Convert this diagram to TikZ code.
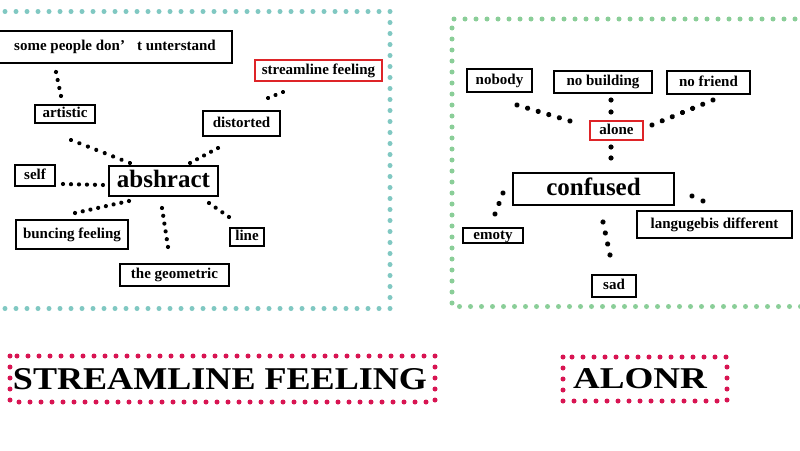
\documentclass[tikz,border=0pt]{standalone}
\usepackage{fontspec}
\setmainfont{Liberation Serif}
\usepackage{graphicx}
\usetikzlibrary{decorations.markings}
\definecolor{frameteal}{RGB}{128,200,194}
\definecolor{framegreen}{RGB}{138,206,152}
\definecolor{framered}{RGB}{216,20,82}
\definecolor{boxred}{RGB}{222,36,40}
\tikzset{
  lbl/.style={draw=black, line width=1.5pt, inner sep=0pt, fill=white,
    font=\bfseries\fontsize{15}{18}\selectfont, text height=10pt, text depth=3pt},
  redlbl/.style={lbl, draw=boxred},
  biglbl/.style={lbl, font=\bfseries\fontsize{25}{30}\selectfont, text height=16pt, text depth=4pt},
  dotsl/.style={postaction={decorate}, decoration={markings,
    mark=between positions 0 and 1 step #1 with {\fill[black] (0,0) circle (2.1pt);}}},
  dotsr/.style={postaction={decorate}, decoration={markings,
    mark=between positions 0 and 1 step #1 with {\fill[black] (0,0) circle (2.6pt);}}},
  dotframe/.style={line width=5pt, line cap=round, dash pattern=on 0pt off 11pt},
}
\begin{document}
\begin{tikzpicture}[x=1pt,y=-1pt]
\useasboundingbox (0,0) rectangle (800,450);
\fill[white] (0,0) rectangle (800,450);

% frames
\draw[dotframe, frameteal] (-6,11.5) -- (390,11.5) -- (390,308.5) -- (-6,308.5);
\draw[dotframe, framegreen] (806,19) -- (452,19) -- (452,306.5) -- (806,306.5);
\draw[dotframe, framered] (10,356) rectangle (435,402);
\draw[dotframe, framered] (563,357) rectangle (727,401);

% titles
\node[inner sep=0pt] (ttl1) at (220,379.5) {\resizebox{414pt}{21pt}{\bfseries STREAMLINE FEELING}};
\node[inner sep=0pt] (ttl2) at (640,378.5) {\resizebox{134pt}{20pt}{\bfseries ALONR}};

% left panel nodes
\node[lbl, minimum width=234pt, minimum height=32pt] (some) at (115,47) {some people don’\hspace{0.8em}t unterstand};
\node[redlbl, minimum width=127pt, minimum height=21pt] (stream) at (318.5,70.5) {streamline feeling};
\node[lbl, minimum width=60pt, minimum height=18pt] (artistic) at (65,114) {artistic};
\node[lbl, minimum width=77pt, minimum height=25pt] (distorted) at (241.5,123.5) {distorted};
\node[biglbl, minimum width=109pt, minimum height=30pt] (abshract) at (163.5,181) {abshract};
\node[lbl, minimum width=40pt, minimum height=21pt] (self) at (35,175.5) {self};
\node[lbl, minimum width=112pt, minimum height=29pt] (buncing) at (72,234.5) {buncing feeling};
\node[lbl, minimum width=34pt, minimum height=18pt] (line) at (247,237) {line};
\node[lbl, minimum width=109pt, minimum height=22pt] (geometric) at (174.5,275) {the geometric};

% right panel nodes
\node[lbl, minimum width=65pt, minimum height=23pt] (nobody) at (499.5,80.5) {nobody};
\node[lbl, minimum width=98pt, minimum height=22pt] (nobuilding) at (603,82) {no building};
\node[lbl, minimum width=83pt, minimum height=23pt] (nofriend) at (708.5,82.5) {no friend};
\node[redlbl, minimum width=53pt, minimum height=19pt] (alone) at (616.5,130.5) {alone};
\node[biglbl, minimum width=161pt, minimum height=32pt] (confused) at (593.5,189) {confused};
\node[lbl, minimum width=60pt, minimum height=15pt] (emoty) at (493,235.5) {emoty};
\node[lbl, minimum width=155pt, minimum height=27pt] (lang) at (714.5,224.5) {langugebis different};
\node[lbl, minimum width=44pt, minimum height=22pt] (sad) at (614,286) {sad};

% connector end points
\coordinate (a1) at (56,72);   \coordinate (a2) at (61,96);
\coordinate (b1) at (283,92);  \coordinate (b2) at (268,98);
\coordinate (c1) at (71,140);  \coordinate (c2) at (130,163);
\coordinate (d1) at (218,148); \coordinate (d2) at (190,163);
\coordinate (e1) at (63,184);  \coordinate (e2) at (103,185);
\coordinate (f1) at (129,201); \coordinate (f2) at (75,213);
\coordinate (g1) at (162,208); \coordinate (g2) at (168,247);
\coordinate (h1) at (209,203); \coordinate (h2) at (229,217);
\coordinate (i1) at (517,105); \coordinate (i2) at (570,121);
\coordinate (j1) at (611,100); \coordinate (j2) at (611,112);
\coordinate (k1) at (652,125); \coordinate (k2) at (713,100);
\coordinate (l1) at (611,147); \coordinate (l2) at (611,158);
\coordinate (m1) at (503,193); \coordinate (m2) at (495,214);
\coordinate (n1) at (692,196); \coordinate (n2) at (703,201);
\coordinate (o1) at (603,222); \coordinate (o2) at (610,255);

% left connectors
\path[dotsl=0.333] (a1) -- (a2);
\path[dotsl=0.4995] (b1) -- (b2);
\path[dotsl=0.1428] (c1) -- (c2);
\path[dotsl=0.2495] (d1) -- (d2);
\path[dotsl=0.1998] (e1) -- (e2);
\path[dotsl=0.1428] (f1) -- (f2);
\path[dotsl=0.1998] (g1) -- (g2);
\path[dotsl=0.333] (h1) -- (h2);

% right connectors
\path[dotsr=0.1998] (i1) -- (i2);
\path[dotsr=0.999] (j1) -- (j2);
\path[dotsr=0.1665] (k1) -- (k2);
\path[dotsr=0.999] (l1) -- (l2);
\path[dotsr=0.4995] (m1) -- (m2);
\path[dotsr=0.999] (n1) -- (n2);
\path[dotsr=0.333] (o1) -- (o2);
\end{tikzpicture}
\end{document}
